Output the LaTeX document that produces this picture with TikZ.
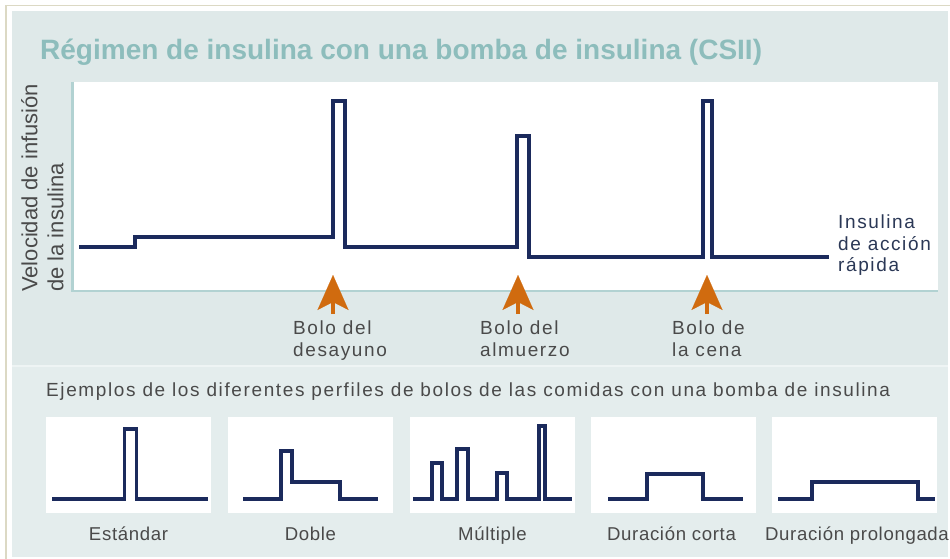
\documentclass[tikz,border=0pt]{standalone}
\usepackage{fontspec}
\setmainfont{Liberation Sans}
\newfontfamily\lblfont[LetterSpace=8.5]{Liberation Sans}
\newfontfamily\capfont[LetterSpace=3.5]{Liberation Sans}
\usetikzlibrary{arrows.meta}
\definecolor{panelTop}{HTML}{DFE9E9}
\definecolor{panelBot}{HTML}{E4EDED}
\definecolor{sepc}{HTML}{EEF4F4}
\definecolor{beige}{HTML}{DCD9C4}
\definecolor{axisc}{HTML}{B2D2D2}
\definecolor{navy}{HTML}{1B2A5C}
\definecolor{navytext}{HTML}{2B3856}
\definecolor{arrowc}{HTML}{D06B0F}
\definecolor{titlec}{HTML}{8DBDBC}
\definecolor{txt}{HTML}{4A4A4A}
\begin{document}
\begin{tikzpicture}[x=1pt,y=-1pt,
  trace/.style={draw=navy, line width=4pt, line join=miter},
  mini/.style={draw=navy, line width=3.5pt, line join=miter},
  lbl/.style={font=\lblfont\fontsize{19}{21.5}\selectfont, text=txt, inner sep=0pt, align=left, anchor=north west},
  captxt/.style={font=\capfont\fontsize{18.6}{21.5}\selectfont, text=txt, inner sep=0pt, anchor=base},
  bolus/.style={draw=arrowc, line width=4pt, -{Stealth[length=35pt,width=31pt,inset=8pt,line width=0.1pt]}},
  minipanel/.style={fill=white, draw=none, inner sep=0pt, minimum width=165pt, minimum height=96pt, anchor=north west}]
\useasboundingbox (0,0) rectangle (950,559);
% frame
\fill[beige] (5,5) rectangle (950,6.5);
\fill[beige] (5,5) rectangle (6.5,559);
\fill[panelTop] (12,11) rectangle (948,365);
\fill[sepc] (12,365) rectangle (948,367);
\fill[panelBot] (12,367) rectangle (948,557);
% title
\node[anchor=base west, font=\bfseries\fontsize{28}{32}\selectfont, text=titlec, inner sep=0pt] (title) at (40,60) {Régimen de insulina con una bomba de insulina (CSII)};
% plot area
\fill[white] (73,82) rectangle (938,290);
\draw[axisc, line width=2.5pt] (72.5,82) -- (72.5,291) -- (938,291);
\node[rotate=90, anchor=north west, font=\fontsize{22}{26}\selectfont, text=txt, align=left, inner sep=0pt] (ylab) at (21,292) {Velocidad de infusión\\de la insulina};
% main trace
\draw[trace] (79,247) -- (135,247) -- (135,237) -- (332.5,237) -- (332.5,101) -- (344.5,101) -- (344.5,247) -- (516.5,247) -- (516.5,136) -- (528.5,136) -- (528.5,257) -- (702.5,257) -- (702.5,101) -- (711.5,101) -- (711.5,257) -- (829,257);
\node[lbl, text=navytext] (ins) at (838,215) {Insulina\\de acción\\rápida};
% bolus arrows
\coordinate (tipA) at (333,275); \coordinate (tailA) at (333,314);
\coordinate (tipB) at (518,275); \coordinate (tailB) at (518,314);
\coordinate (tipC) at (707,275); \coordinate (tailC) at (707,314);
\draw[bolus] (tailA) -- (tipA);
\draw[bolus] (tailB) -- (tipB);
\draw[bolus] (tailC) -- (tipC);
\node[lbl] (lblA) at (293,321) {Bolo del\\desayuno};
\node[lbl] (lblB) at (480,321) {Bolo del\\almuerzo};
\node[lbl] (lblC) at (672,321) {Bolo de\\la cena};
% bottom section
\node[lbl, anchor=base west] (ejem) at (46,396) {Ejemplos de los diferentes perfiles de bolos de las comidas con una bomba de insulina};
\node[minipanel] (p1) at (46,417) {};
\node[minipanel] (p2) at (228,417) {};
\node[minipanel] (p3) at (410,417) {};
\node[minipanel] (p4) at (591,417) {};
\node[minipanel] (p5) at (772,417) {};
\draw[mini] (52,499) -- (124.5,499) -- (124.5,429) -- (136.5,429) -- (136.5,499) -- (208,499);
\draw[mini] (243,499) -- (281,499) -- (281,451) -- (292,451) -- (292,482) -- (340,482) -- (340,499) -- (378,499);
\draw[mini] (413,499) -- (432,499) -- (432,463) -- (442,463) -- (442,499) -- (457,499) -- (457,449) -- (468,449) -- (468,499) -- (497,499) -- (497,473) -- (507,473) -- (507,499) -- (539,499) -- (539,426) -- (545,426) -- (545,499) -- (572,499);
\draw[mini] (608,499) -- (647,499) -- (647,474) -- (703,474) -- (703,499) -- (743,499);
\draw[mini] (778,499) -- (812,499) -- (812,482) -- (918,482) -- (918,499) -- (935,499);
\node[captxt] (c1) at (128.5,540) {Estándar};
\node[captxt] (c2) at (310.5,540) {Doble};
\node[captxt] (c3) at (492.5,540) {Múltiple};
\node[captxt] (c4) at (671.5,540) {Duración corta};
\node[captxt] (c5) at (857,540) {Duración prolongada};
\end{tikzpicture}
\end{document}
